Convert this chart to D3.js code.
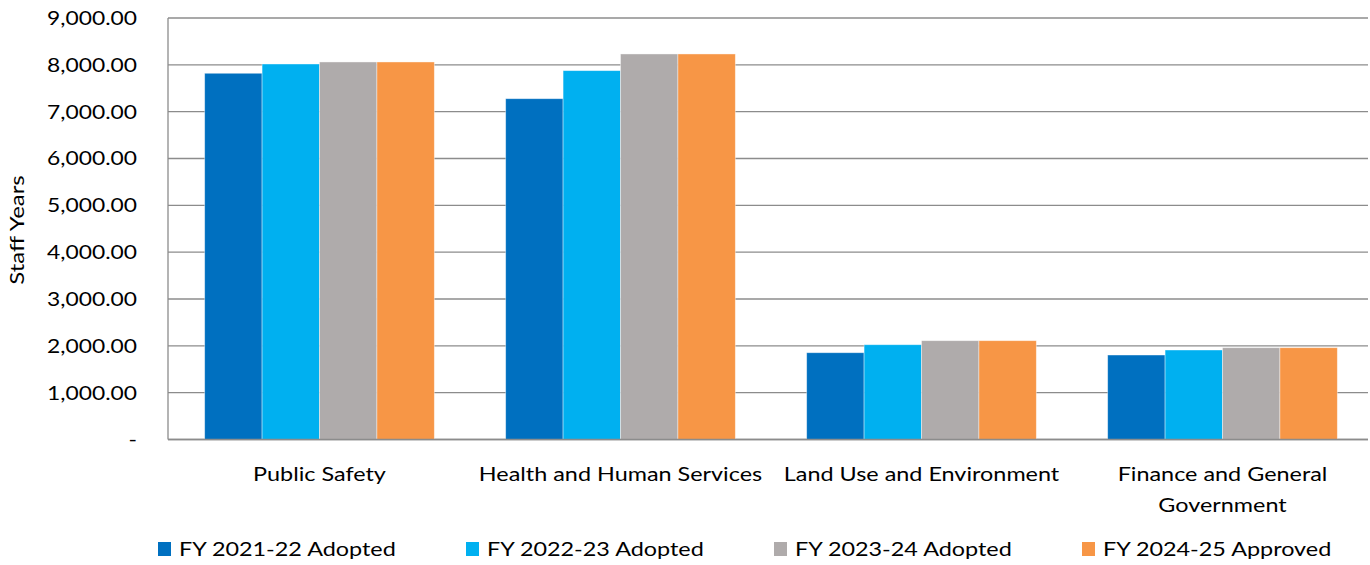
<!DOCTYPE html>
<html>
<head>
<meta charset="utf-8">
<script src="https://cdn.jsdelivr.net/npm/d3@7"></script>
<style>
  body { margin: 0; background: #fff; }
  svg text { font-family: Lato, "Open Sans", sans-serif; fill: #000; }
</style>
</head>
<body>
<div id="chart"></div>
<script>
var categories = ["Public Safety", "Health and Human Services", "Land Use and Environment", "Finance and General Government"];
var seriesNames = ["FY 2021-22 Adopted", "FY 2022-23 Adopted", "FY 2023-24 Adopted", "FY 2024-25 Approved"];
var colors = ["#0070C0", "#00B0F0", "#AFABAB", "#F79646"];
var fy2122 = [7820, 7277, 1853, 1804];
var fy2223 = [8018, 7876, 2024, 1911];
var fy2324 = [8061, 8232, 2110, 1960];
var fy2425 = [8061, 8232, 2110, 1960];
var yTicks = [0, 1000, 2000, 3000, 4000, 5000, 6000, 7000, 8000, 9000];

var series = [fy2122, fy2223, fy2324, fy2425];

var width = 1370, height = 565;
var plotLeft = 168, plotRight = 1368, plotTop = 18, plotBottom = 439.5;
var stretch = 1.17; // text in the picture is drawn wider than normal

var svg = d3.select("#chart").append("svg")
    .attr("width", width).attr("height", height);

// categories run a little past the right edge of the plot frame
var x = d3.scaleBand().domain(categories).range([169, 1373]).paddingInner(0.237).paddingOuter(0.1185);
var xs = d3.scaleBand().domain(d3.range(series.length)).range([0, x.bandwidth()]);
var y = d3.scaleLinear().domain([0, 9000]).range([plotBottom, plotTop]);

function place(px, py) {
    return "translate(" + px + "," + py + ") scale(" + stretch + ",1)";
}

// gridlines
svg.append("g").selectAll("line")
    .data(yTicks)
    .enter().append("line")
    .attr("x1", plotLeft).attr("x2", plotRight)
    .attr("y1", function (d) { return y(d); })
    .attr("y2", function (d) { return y(d); })
    .attr("stroke", "#8c8c8c").attr("stroke-width", 1.3);

// y axis labels
var fmt = d3.format(",.2f");
svg.append("g").selectAll("text")
    .data(yTicks)
    .enter().append("text")
    .attr("transform", function (d) { return place(137, y(d)); })
    .attr("dy", "0.35em")
    .attr("text-anchor", "end")
    .style("font-size", "19.5px")
    .text(function (d) { return d === 0 ? "-" : fmt(d); });

// bars
series.forEach(function (vals, s) {
    svg.append("g").selectAll("rect")
        .data(vals)
        .enter().append("rect")
        .attr("x", function (d, i) { return x(categories[i]) + xs(s); })
        .attr("y", function (d) { return y(d); })
        .attr("width", xs.bandwidth())
        .attr("height", function (d) { return y(0) - y(d); })
        .attr("fill", colors[s])
        .attr("stroke", "#fff").attr("stroke-opacity", 0.5).attr("stroke-width", 0.8);
});

// axis lines
svg.append("line").attr("x1", plotLeft).attr("x2", plotLeft).attr("y1", plotTop).attr("y2", plotBottom)
    .attr("stroke", "#8c8c8c").attr("stroke-width", 1.3);
svg.append("line").attr("x1", plotLeft).attr("x2", plotRight).attr("y1", plotBottom).attr("y2", plotBottom)
    .attr("stroke", "#8c8c8c").attr("stroke-width", 1.3);

// y axis title
svg.append("text")
    .attr("transform", "translate(24,230) rotate(-90) scale(1.2,1)")
    .attr("text-anchor", "middle")
    .style("font-size", "20px")
    .text("Staff Years");

// category labels
var catLines = [["Public Safety"], ["Health and Human Services"], ["Land Use and Environment"], ["Finance and General", "Government"]];
categories.forEach(function (c, i) {
    var cx = x(c) + x.bandwidth() / 2;
    catLines[i].forEach(function (l, j) {
        svg.append("text")
            .attr("transform", place(cx, 481 + j * 31))
            .attr("text-anchor", "middle")
            .style("font-size", "20px")
            .text(l);
    });
});

// legend
var legX = [158, 466, 774, 1082];
var leg = svg.append("g").selectAll("g")
    .data(seriesNames)
    .enter().append("g")
    .attr("transform", function (d, i) { return "translate(" + legX[i] + ",549)"; });
leg.append("rect").attr("x", 0).attr("y", -7).attr("width", 13).attr("height", 14)
    .attr("fill", function (d, i) { return colors[i]; });
leg.append("text").attr("transform", place(21, 0)).attr("dy", "0.35em")
    .style("font-size", "20px")
    .text(function (d) { return d; });
</script>
</body>
</html>
